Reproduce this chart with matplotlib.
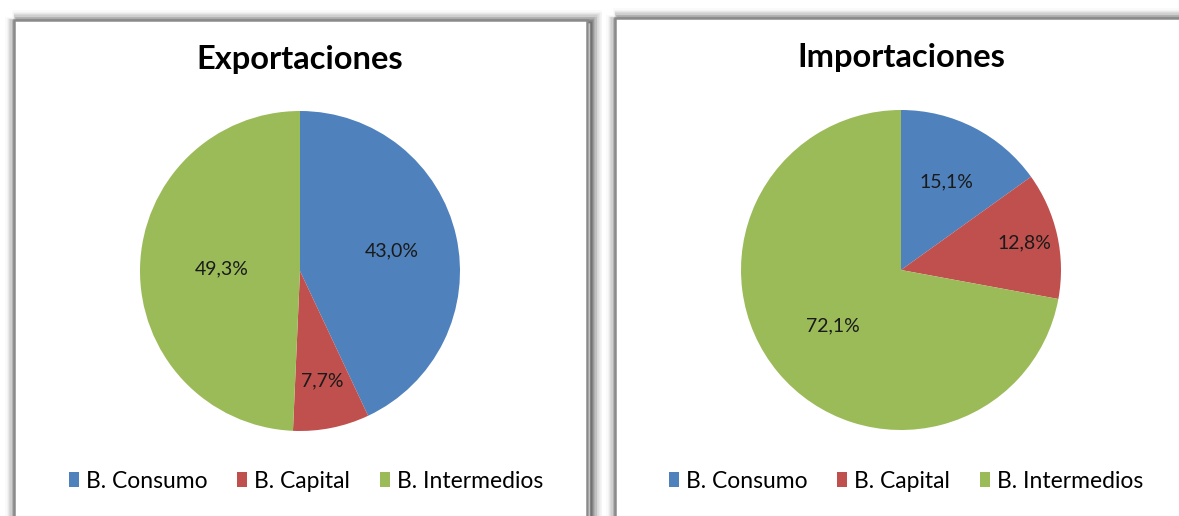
import matplotlib.pyplot as plt
from matplotlib.patches import Rectangle, Patch
import numpy as np

categories = ["B. Consumo", "B. Capital", "B. Intermedios"]
export_vals = [43.0, 7.7, 49.3]
import_vals = [15.1, 12.8, 72.1]
titles = ["Exportaciones", "Importaciones"]

colors = ["#4F81BD", "#C0504D", "#9BBB59"]
plt.rcParams['font.family'] = ['Lato', 'DejaVu Sans']

W, H = 1179, 516
fig = plt.figure(figsize=(W / 100, H / 100), dpi=100)


def px_box(x0, y0, x1, y1):
    # pixel box (top-left origin) -> figure fraction rect
    return [x0 / W, 1 - y1 / H, (x1 - x0) / W, (y1 - y0) / H]


# panel frames with a soft shadow
bg = fig.add_axes([0, 0, 1, 1])
bg.set_xlim(0, W)
bg.set_ylim(H, 0)
bg.axis("off")
for (x0, y0, x1, y1) in [(14, 20, 587, 540), (615, 18, 1200, 540)]:
    for k, a in zip(range(10, 0, -1), [0.02, 0.03, 0.04, 0.05, 0.06, 0.07, 0.09, 0.11, 0.13, 0.15]):
        bg.add_patch(Rectangle((x0 - k / 2 + 3, y0 - k / 2 + 2), x1 - x0 + k, y1 - y0 + k,
                               fill=False, ec="black", lw=k, alpha=a))
    bg.add_patch(Rectangle((x0, y0), x1 - x0, y1 - y0, fc="white", ec="#8a8a8a", lw=1.8))


def draw_pie(cx, cy, r, vals, title, dists, title_y, leg_x):
    ax = fig.add_axes(px_box(cx - r, cy - r, cx + r, cy + r))
    wedges, _ = ax.pie(vals, colors=colors, startangle=90, counterclock=False,
                       radius=1, wedgeprops=dict(linewidth=0))
    for w, v, d in zip(wedges, vals, dists):
        ang = np.deg2rad((w.theta1 + w.theta2) / 2)
        ax.text(d * np.cos(ang), d * np.sin(ang), f"{v:.1f}%".replace(".", ","),
                ha="center", va="center", fontsize=14, color="#1a1a1a")
    ax.set_xlim(-1, 1)
    ax.set_ylim(-1, 1)
    ax.set_aspect("equal")
    fig.text(cx / W, 1 - title_y / H, title, ha="center", va="center",
             fontsize=23.5, fontweight="bold", color="black")
    handles = [Patch(fc=c, ec="none") for c in colors]
    fig.legend(handles, categories, loc="center", bbox_to_anchor=(leg_x / W, 1 - 481 / H),
               ncol=3, frameon=False, fontsize=16.5, handlelength=0.45, handleheight=0.6,
               handletextpad=0.3, columnspacing=1.3)


draw_pie(300, 271, 160, export_vals, titles[0], [0.59, 0.7, 0.49], 60, 306)
draw_pie(901, 270, 160, import_vals, titles[1], [0.62, 0.79, 0.55], 58, 906)

fig.savefig("out.png", dpi=100)
